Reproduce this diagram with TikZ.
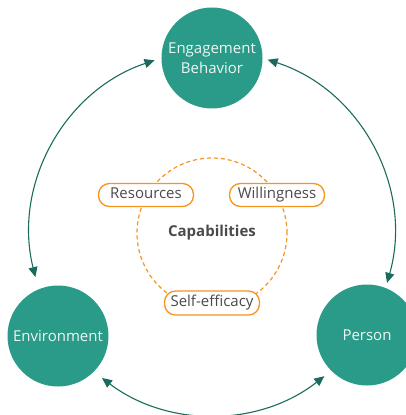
\documentclass[tikz,border=0pt]{standalone}
\usepackage{fontspec}
\setmainfont{Open Sans}
\usetikzlibrary{arrows.meta}
\definecolor{teal1}{HTML}{2A9B88}
\definecolor{tealdark}{HTML}{1A6B5D}
\definecolor{orng}{HTML}{F7941D}
\definecolor{txtgray}{HTML}{4A4A4A}
\definecolor{offwhite}{HTML}{EEF7F5}
\tikzset{
  actor/.style={circle, fill=teal1, minimum size=101pt, inner sep=0pt, text=offwhite, font=\fontsize{15}{20}\selectfont, align=center},
  capbox/.style={draw=orng, line width=1.3pt, fill=white, rounded corners=11pt, minimum width=95pt, minimum height=23pt, inner sep=0pt, text height=10.5pt, text depth=3.5pt, text=txtgray, font=\fontsize{15}{18}\selectfont},
  link/.style={draw=tealdark, line width=1.1pt, {Triangle[length=10pt,width=9pt]}-{Triangle[length=10pt,width=9pt]}},
}
\begin{document}
\begin{tikzpicture}[x=1pt,y=1pt]
\useasboundingbox (-212,-182) rectangle (194,233);
\clip (-212,-182) rectangle (194,233);
\coordinate (c) at (0,0);
\draw[orng, line width=1.2pt, dash pattern=on 4pt off 3pt] (c) circle (75);
\node[actor] (eng) at (0,175) {Engagement\\Behavior};
\node[actor] (env) at (-154,-103) {Environment};
\node[actor] (per) at (155,-102) {Person};
\node[capbox] (res) at (-66,38) {Resources};
\node[capbox] (wil) at (65,38) {Willingness};
\node[capbox, minimum height=24pt] (sel) at (0,-70) {Self-efficacy};
\node[text=txtgray, font=\bfseries\fontsize{15}{18}\selectfont] (cap) at (c) {Capabilities};
\coordinate (l1) at (108.4:182);
\coordinate (r1) at (72.2:182);
\coordinate (b1) at (232.8:182);
\draw[link] (l1) arc[start angle=108.4, end angle=194, radius=182];
\draw[link] (r1) arc[start angle=72.2, end angle=-15.9, radius=182];
\draw[link] (b1) arc[start angle=232.8, end angle=308.1, radius=182];
\end{tikzpicture}
\end{document}
